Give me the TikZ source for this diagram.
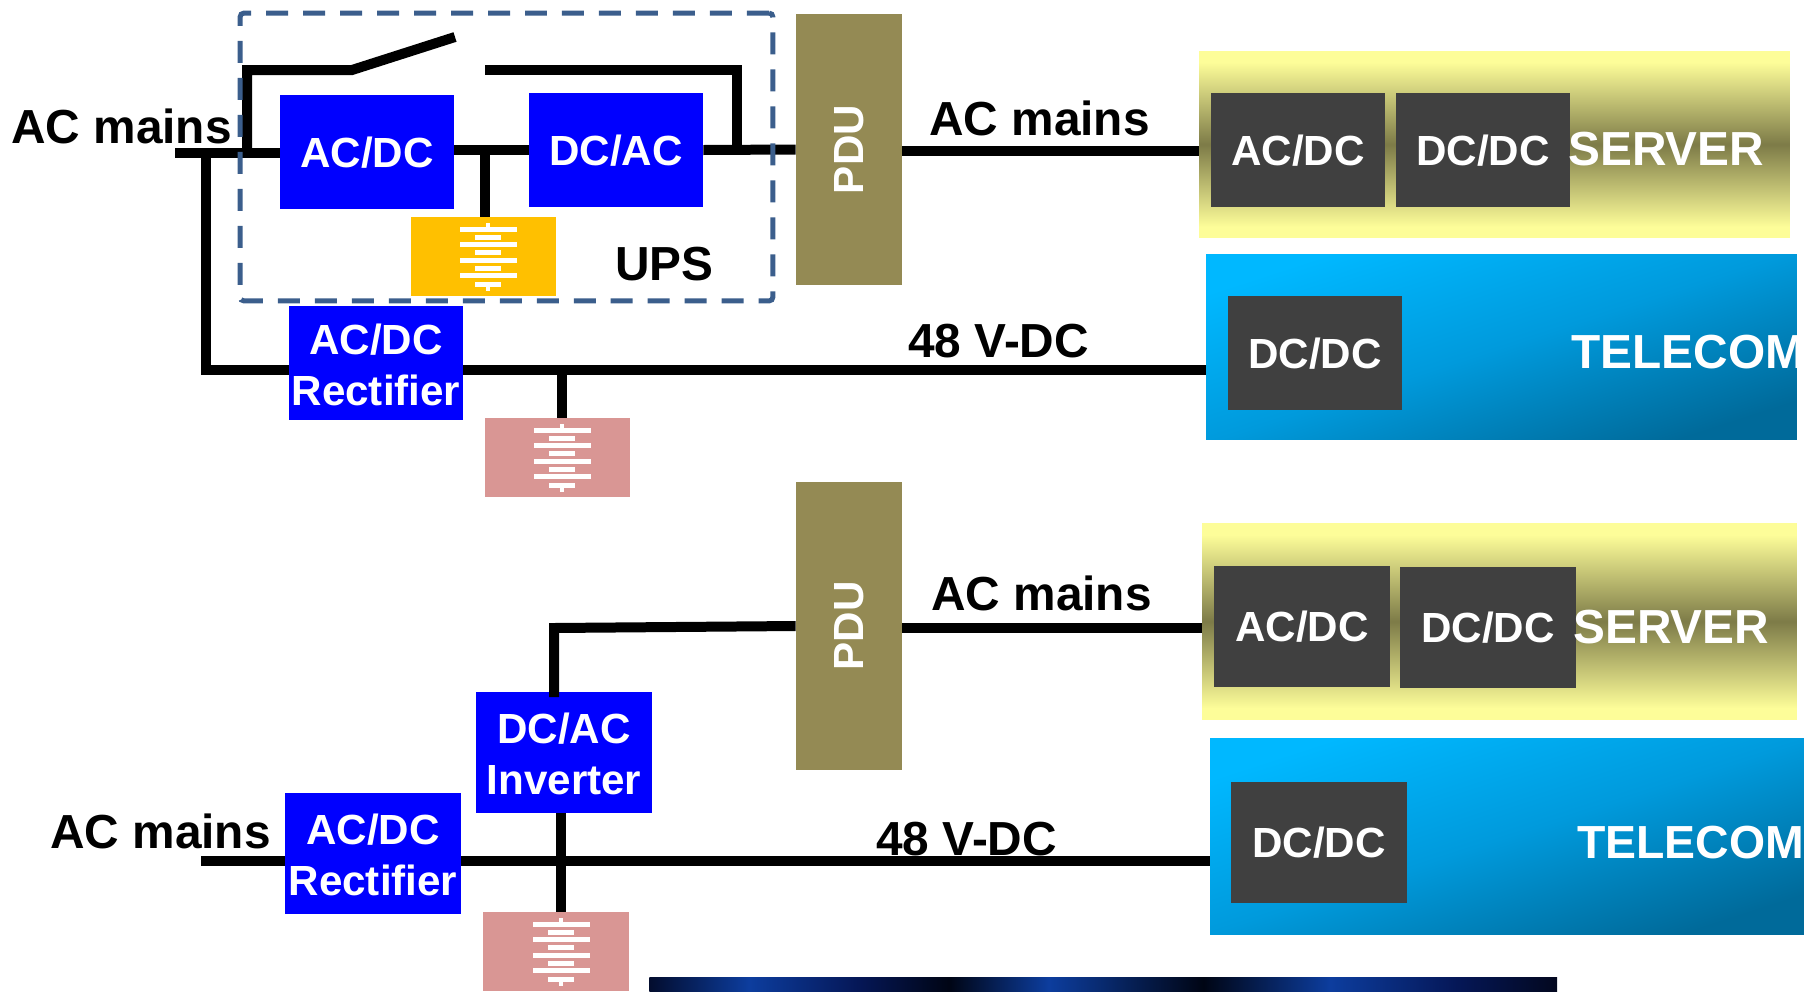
\documentclass[tikz,border=0pt]{standalone}
\usepackage{fontspec}
\setmainfont{Liberation Sans}
\newcommand{\lblfont}{\fontsize{27.2}{32}\selectfont\bfseries}
\newcommand{\edgefont}{\fontsize{26.4}{32}\selectfont\bfseries}
\newcommand{\boxfont}{\fontsize{24}{29}\selectfont\bfseries}
\definecolor{convblue}{HTML}{0000FF}
\definecolor{darkbox}{HTML}{404040}
\definecolor{pduolive}{HTML}{948A54}
\definecolor{upsamber}{HTML}{FFC000}
\definecolor{battpink}{HTML}{D99694}
\definecolor{upsdash}{HTML}{3B5E8C}
\definecolor{srvyellow}{HTML}{FDFD99}
\definecolor{srvmid}{HTML}{7D7B48}
\definecolor{telhigh}{HTML}{00B8FF}
\definecolor{telmid}{HTML}{009ADC}
\definecolor{tellow}{HTML}{006A9A}
\pgfdeclareverticalshading{srvshade}{100bp}{
  color(0bp)=(srvyellow); color(28bp)=(srvyellow); color(50bp)=(srvmid);
  color(72bp)=(srvyellow); color(100bp)=(srvyellow)}
\pgfdeclarehorizontalshading{stripshade}{100bp}{
  rgb(0bp)=(0.01,0.05,0.18); rgb(25bp)=(0.01,0.05,0.18); rgb(30.5bp)=(0.05,0.24,0.62);
  rgb(36.5bp)=(0.02,0.09,0.34); rgb(41.5bp)=(0,0.02,0.08); rgb(47bp)=(0.05,0.24,0.62);
  rgb(55.5bp)=(0,0.02,0.08); rgb(62.5bp)=(0.05,0.24,0.62); rgb(69.5bp)=(0.02,0.09,0.34);
  rgb(75bp)=(0.01,0.03,0.12); rgb(100bp)=(0.01,0.03,0.12)}
\tikzset{
  conv/.style={fill=convblue, text=white, font=\boxfont, align=center, inner sep=0pt,
    text depth=0pt, minimum width=3.48cm, minimum height=2.28cm},
  convtall/.style={conv, minimum width=3.52cm, minimum height=2.42cm},
  load/.style={fill=darkbox, text=white, font=\boxfont, inner sep=0pt, text depth=0pt,
    minimum width=3.48cm, minimum height=2.28cm},
  loadtall/.style={load, minimum width=3.52cm, minimum height=2.42cm},
  pdu/.style={fill=pduolive, text=white, font=\boxfont, inner sep=0pt, minimum width=2.12cm},
  batt/.style={inner sep=0pt, minimum width=2.92cm, minimum height=1.58cm},
  server/.style={inner sep=0pt, shading=srvshade},
  telecom/.style={inner sep=0pt, shading=axis, top color=telhigh, bottom color=tellow, middle color=telmid, shading angle=18},
  lbl/.style={anchor=base west, inner sep=0pt, font=\lblfont},
  panellbl/.style={lbl, text=white},
  wire/.style={line width=0.2cm, black},
  battcells/.pic={
    \foreach \y in {12,27.5,43,58} {
      \fill[white] (-28.5,\y-2.5) rectangle (28.5,\y+2.5);
    }
    \foreach \y in {20,35.5,51,67} {
      \fill[white] (-13,\y-2.5) rectangle (13,\y+2.5);
    }
    \fill[white] (-2,5.5) rectangle (2,12);
    \fill[white] (-2,67) rectangle (2,74);
  }
}
\begin{document}
\begin{tikzpicture}[x=0.02cm, y=-0.02cm]
  \useasboundingbox (0,0) rectangle (1806,991);

  % top loads
  \node[server, minimum width=11.82cm, minimum height=3.74cm] (upserver) at (1494.5,144.5) {};
  \node[telecom, minimum width=11.82cm, minimum height=3.72cm] (uptelecom) at (1501.5,347) {};
  \node[load] (upsrva) at (1298,150) {AC/DC};
  \node[load] (upsrvb) at (1483,150) {DC/DC};
  \node[load] (uptel) at (1315,353) {DC/DC};
  \node[panellbl] (upsrvlbl) at (1568,165) {SERVER};
  \node[panellbl] (uptellbl) at (1571,368) {TELECOM};

  % bottom loads
  \node[server, minimum width=11.9cm, minimum height=3.94cm] (lowserver) at (1499.5,621.5) {};
  \node[telecom, minimum width=11.88cm, minimum height=3.94cm] (lowtelecom) at (1507,836.5) {};
  \node[loadtall] (lowsrva) at (1302,626.5) {AC/DC};
  \node[loadtall] (lowsrvb) at (1488,627.5) {DC/DC};
  \node[loadtall] (lowtel) at (1319,842.5) {DC/DC};
  \node[panellbl] (lowsrvlbl) at (1573,643) {SERVER};
  \node[panellbl, font=\edgefont] (lowtellbl) at (1577,858) {TELECOM};

  % converters
  \node[conv] (upsacdc) at (367,152) {AC/DC};
  \node[conv] (upsdcac) at (616,150) {DC/AC};
  \node[conv] (uprect) at (376,363) {\rule{0pt}{19pt}AC/DC\\Rectifier};
  \node[convtall] (lowrect) at (373,853.5) {\rule{0pt}{19pt}AC/DC\\Rectifier};
  \node[convtall] (lowinv) at (564,752.5) {\rule{0pt}{19pt}DC/AC\\Inverter};

  % pdu
  \node[pdu, minimum height=5.42cm] (uppdu) at (849,149.5) {\rotatebox{90}{PDU}};
  \node[pdu, minimum height=5.76cm] (lowpdu) at (849,626) {\rotatebox{90}{PDU}};

  % batteries
  \node[batt, fill=upsamber] (upsbatt) at (483.5,256.5) {};
  \pic at (488,217) {battcells};
  \node[batt, fill=battpink] (upbatt) at (557.5,457.5) {};
  \pic at (562,418) {battcells};
  \node[batt, fill=battpink] (lowbatt) at (556,951.5) {};
  \pic at (561,912) {battcells};

  % photo at the lower edge
  \node[anchor=north west, inner sep=0pt, minimum width=18.16cm, minimum height=0.28cm, shading=stripshade] (photo) at (649,977) {};

  % named points on the wires
  \coordinate (acin) at (175,153);
  \coordinate (byp) at (247,153);
  \coordinate (acfeed) at (205.5,153);
  \coordinate (swa) at (352,70);
  \coordinate (swb) at (455,37);
  \coordinate (swc) at (485,70);
  \coordinate (bypout) at (737,149);
  \coordinate (upsbus) at (485,150);
  \coordinate (upbus) at (562,370);
  \coordinate (upac) at (1000,151);
  \coordinate (acinb) at (201,861);
  \coordinate (lowbus) at (561,861);
  \coordinate (invtop) at (554,697);
  \coordinate (invout) at (554,628);
  \coordinate (lowac) at (1000,628);

  % top wires
  \draw[wire] (acin) -- (acin -| upsacdc.west);
  \draw[wire] (byp) |- (swa) -- (swb);
  \draw[wire] (swc) -| (bypout);
  \draw[wire] (upsdcac.west -| upsacdc.east) -- (upsdcac.west);
  \draw[wire] (upsdcac.east) -- (uppdu.west);
  \draw[wire] (upsbus) -- (upsbus |- upsbatt.north);
  \draw[wire] (acfeed) |- (uprect.west |- upbus);
  \draw[wire] (uprect.east |- upbus) -- (uptelecom.west |- upbus);
  \draw[wire] (upbus) -- (upbus |- upbatt.north);
  \draw[wire] (upac -| uppdu.east) -- (upac -| upserver.west);

  % bottom wires
  \draw[wire] (acinb) -- (acinb -| lowrect.west);
  \draw[wire] (lowrect.east |- lowbus) -- (lowbus -| lowtelecom.west);
  \draw[wire] (lowbus |- lowinv.south) -- (lowbus |- lowbatt.north);
  \draw[wire] (invtop) -- (invout) -- (lowpdu.west);
  \draw[wire] (lowac -| lowpdu.east) -- (lowac -| lowserver.west);

  % ups frame
  \node[draw=upsdash, line width=0.1cm, dash pattern=on 0.44cm off 0.3cm, rounded corners=0.08cm,
    inner sep=0pt, minimum width=10.66cm, minimum height=5.76cm] (upsframe) at (506.5,157) {};

  % labels
  \node[lbl] (acmainsa) at (11,143) {AC mains};
  \node[lbl] (upslbl) at (615,280) {UPS};
  \node[lbl] (acmainsb) at (929,135) {AC mains};
  \node[lbl] (dcbusa) at (908,357) {48 V-DC};
  \node[lbl] (acmainsc) at (50,848) {AC mains};
  \node[lbl] (acmainsd) at (931,610) {AC mains};
  \node[lbl] (dcbusb) at (876,855) {48 V-DC};
\end{tikzpicture}
\end{document}
